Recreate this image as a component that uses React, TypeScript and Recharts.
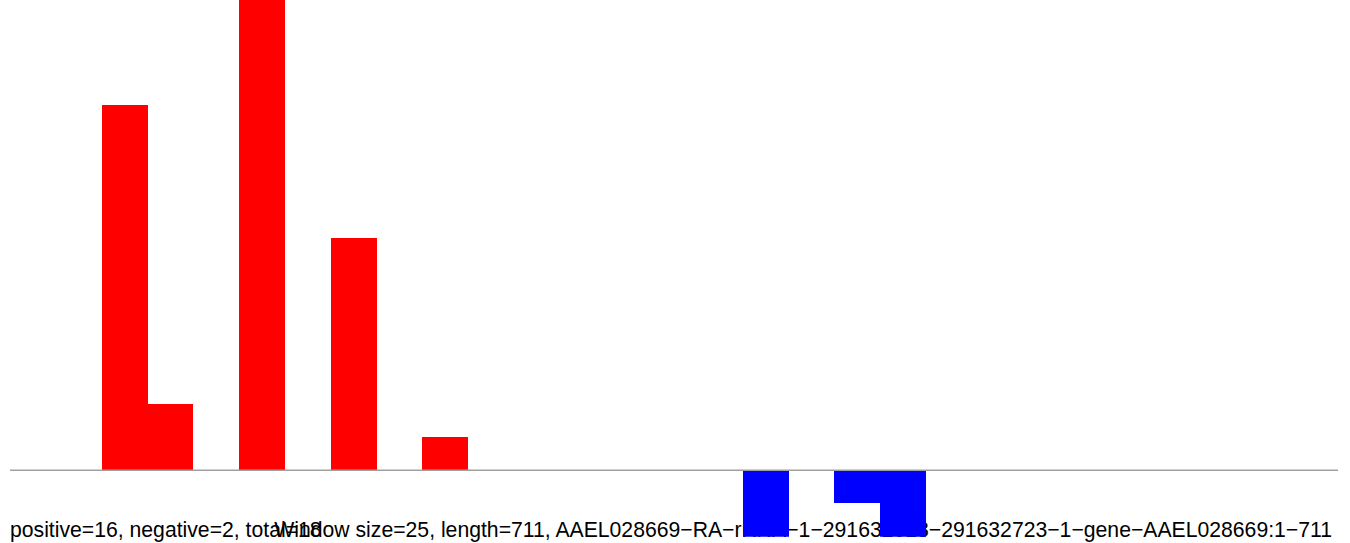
import { BarChart, Bar, XAxis, YAxis, ReferenceLine, Cell } from 'recharts';

// window index (0..28) -> signed count, window size 25 over length 711
const windows = [
  '1-25', '26-50', '51-75', '76-100', '101-125', '126-150', '151-175', '176-200',
  '201-225', '226-250', '251-275', '276-300', '301-325', '326-350', '351-375',
  '376-400', '401-425', '426-450', '451-475', '476-500', '501-525', '526-550',
  '551-575', '576-600', '601-625', '626-650', '651-675', '676-700', '701-711',
];
const counts = [
  0, 0, 11, 2, 0, 15, 0, 7, 0, 1, 0, 0, 0, 0, 0,
  0, -2, 0, -1, -2, 0, 0, 0, 0, 0, 0, 0, 0, 0,
];
const summary = 'positive=16, negative=2, total=18';
const title = 'Window size=25, length=711, AAEL028669\u2212RA\u2212rRNA\u22121\u2212291632013\u2212291632723\u22121\u2212gene\u2212AAEL028669:1\u2212711';

const data = windows.map((w, i) => ({ win: w, count: counts[i] }));

const W = 1350;
const H = 543;
const font = "'Liberation Sans', Arial, sans-serif";

export default function App() {
  return (
    <div style={{ position: 'absolute', left: 0, top: 0, width: W, height: H, background: '#fff' }}>
      {/* captions sit under the bars, like the original */}
      <svg width={W} height={H} style={{ position: 'absolute', left: 0, top: 0 }}>
        <text x={10} y={537} fontFamily={font} fontSize={21.2} fill="#000">
          {summary}
        </text>
        <text x={1332} y={537} textAnchor="end" fontFamily={font} fontSize={21.2} fill="#000">
          {title}
        </text>
      </svg>
      <div style={{ position: 'absolute', left: 0, top: 0 }}>
        <BarChart
          width={W}
          height={H}
          data={data}
          margin={{ top: 0, right: 12, bottom: 6.3, left: 10 }}
          barCategoryGap={0}
          barGap={0}
        >
          <XAxis dataKey="win" hide />
          <YAxis hide domain={[-2, 14.16]} allowDataOverflow />
          <ReferenceLine y={0} stroke="#a0a0a0" strokeWidth={1.5} />
          <Bar dataKey="count" isAnimationActive={false} shapeRendering="crispEdges">
            {data.map((d, i) => (
              <Cell key={i} fill={d.count >= 0 ? '#ff0000' : '#0000ff'} />
            ))}
          </Bar>
        </BarChart>
      </div>
    </div>
  );
}
